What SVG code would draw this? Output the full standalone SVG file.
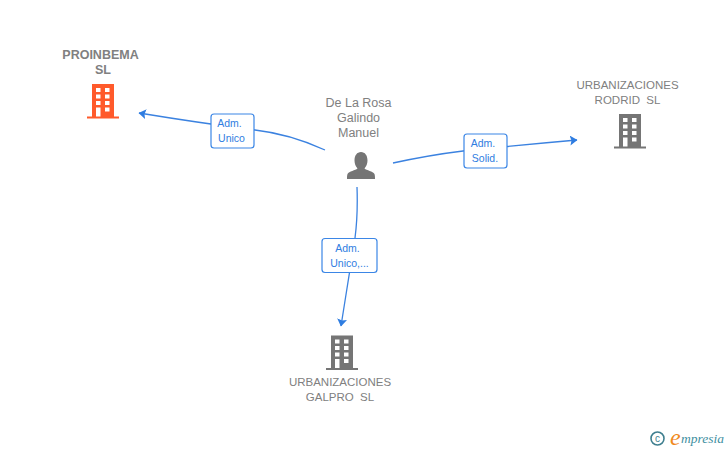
<svg xmlns="http://www.w3.org/2000/svg" width="728" height="450" viewBox="0 0 728 450">
<style>
.n{font-family:"Liberation Sans",Arial,sans-serif;font-size:11.500px;fill:#808080;text-anchor:middle;white-space:pre}
.p{font-size:12.500px}
.b{font-weight:bold;font-size:12.500px}
.l{font-family:"Liberation Sans",Arial,sans-serif;font-size:10.500px;fill:#2f7de1;text-anchor:middle}
.c{fill:none;stroke:#3b82e0;stroke-width:1.300}
.lb{fill:#fff;stroke:#3b86e6;stroke-width:1.200}
.w{fill:#fff}
</style>
<defs>
<marker id="a" markerWidth="12" markerHeight="12" refX="7" refY="5" orient="auto" markerUnits="userSpaceOnUse"><path d="M0 0L7.500 5L0 10L1.500 5Z" fill="#2f7de1"/></marker>
<g id="bld">
<path d="M-16 15.500h5V-17h22V15.500h5V17.500H-16Z"/>
<g class="w"><rect x="-7" y="-13" width="4.500" height="4"/><rect x="2" y="-13" width="4.500" height="4"/><rect x="-7" y="-6.500" width="4.500" height="4"/><rect x="2" y="-6.500" width="4.500" height="4"/><rect x="-7" y="0" width="4.500" height="4"/><rect x="2" y="0" width="4.500" height="4"/><rect x="-7" y="6.500" width="4.500" height="9"/><rect x="2" y="6.500" width="4.500" height="4"/></g>
</g>
</defs>
<g id="connectors">
<path class="c" marker-end="url(#a)" d="M325 150Q290 134 255 130Q200 123 139 113"/>
<path class="c" marker-end="url(#a)" d="M393 163Q430 155 463 151Q520 145 577 140"/>
<path class="c" marker-end="url(#a)" d="M357 187Q358 215 355 238L341 326"/>
</g>
<g id="n-proinbema" fill="#ff5a2b">
<text class="n b" x="100.500" y="59">PROINBEMA</text><text class="n b" x="103" y="74">SL</text>
<use href="#bld" x="103" y="101"/>
</g>
<g id="n-person" fill="#757575">
<text class="n p" x="358.500" y="107">De La Rosa</text><text class="n p" x="358.500" y="122">Galindo</text><text class="n p" x="358.500" y="137">Manuel</text>
<path d="M361 152c4 0 6.500 3.500 6.500 8.500c0 3-1.200 6-3 8c2 2 8.500 2.500 10 5.500c.5 1.500.5 3 .5 5h-28c0-2 0-3.500.5-5c1.500-3 8-3.500 10-5.500c-1.800-2-3-5-3-8c0-5 2.500-8.500 6.500-8.500Z"/>
</g>
<g id="n-rodrid" fill="#757575">
<text class="n" x="627.500" y="89">URBANIZACIONES</text><text class="n" x="627.500" y="104">RODRID  SL</text>
<use href="#bld" x="630" y="131"/>
</g>
<g id="n-galpro" fill="#757575">
<text class="n" x="340" y="386">URBANIZACIONES</text><text class="n" x="340" y="401">GALPRO  SL</text>
<use href="#bld" x="342" y="352.500"/>
</g>
<g id="e1"><rect class="lb" x="211" y="114" width="43" height="34" rx="3"/><text class="l" x="229.500" y="127">Adm.</text><text class="l" x="231.500" y="142">Unico</text></g>
<g id="e2"><rect class="lb" x="464" y="134" width="43" height="34" rx="3"/><text class="l" x="483" y="147">Adm.</text><text class="l" x="485" y="162">Solid.</text></g>
<g id="e3"><rect class="lb" x="322" y="238.500" width="55" height="34" rx="3"/><text class="l" x="347.500" y="252">Adm.</text><text class="l" x="349.500" y="267">Unico,...</text></g>
<g id="logo">
<circle cx="657.500" cy="438.500" r="6.500" fill="none" stroke="#3f7f8f" stroke-width="1.600"/>
<text x="657.500" y="442" font-family="Liberation Sans,sans-serif" font-size="10" fill="#3f7f8f" text-anchor="middle">c</text>
<text x="670" y="445" font-family="Liberation Serif,serif" font-style="italic" font-size="24" fill="#f08a1d">e</text>
<text x="681" y="443" font-family="Liberation Serif,serif" font-style="italic" font-size="13.500" fill="#3f8f9f">mpresia</text>
</g>
</svg>
